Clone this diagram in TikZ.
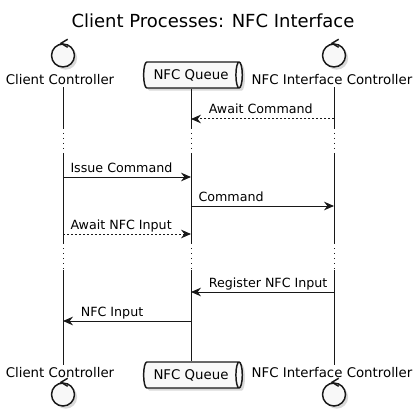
\documentclass[tikz,border=0pt]{standalone}
\usepackage{fontspec}
\setmainfont{DejaVu Sans}
\usetikzlibrary{arrows.meta,shapes.geometric,shadows}
\definecolor{umlline}{HTML}{181818}
\definecolor{umlfill}{HTML}{F8F8F8}
\tikzset{
  ctrl/.style={circle, draw=umlline, line width=1.1pt, fill=umlfill, minimum size=17.25pt, inner sep=0pt, drop shadow={shadow xshift=2pt, shadow yshift=-2pt, opacity=0.3}},
  ctrlmark/.style={draw=umlline, line width=1.1pt, line join=miter},
  queuebox/.style={cylinder, shape aspect=0.55, draw=umlline, line width=1.1pt, fill=umlfill, minimum height=74pt, minimum width=19.5pt, inner sep=0pt, font=\fontsize{10pt}{12pt}\selectfont, drop shadow={shadow xshift=2pt, shadow yshift=-2pt, opacity=0.3}},
  partlbl/.style={font=\fontsize{10pt}{12pt}\selectfont, inner sep=1.5pt},
  msglbl/.style={font=\fontsize{9.5pt}{11pt}\selectfont, inner sep=0pt},
  fromlbl/.style={msglbl, pos=0, anchor=base west, xshift=5.25pt, yshift=3.75pt},
  tolbl/.style={msglbl, pos=1, anchor=base west, xshift=13pt, yshift=3.75pt},
  life/.style={draw=umlline, line width=0.75pt},
  delay/.style={draw=umlline, line width=0.75pt, dash pattern=on 0.75pt off 3pt},
  call/.style={-{Stealth[length=7.5pt,width=6.5pt,inset=2.5pt]}, draw=umlline, line width=0.75pt},
  reply/.style={call, dash pattern=on 1.5pt off 1.5pt}
}
\begin{document}
\begin{tikzpicture}[x=0.75pt, y=-0.75pt]
  \useasboundingbox (0,0) rectangle (419,420);

  \node[font=\fontsize{13.5pt}{16pt}\selectfont, anchor=base] (title) at (213,28) {Client Processes: NFC Interface};

  % participants, top
  \node[ctrl] (client) at (63,55.5) {};
  \node[partlbl, anchor=base] (clientTxt) at (60,85) {Client Controller};
  \node[queuebox] (queue) at (191,75) {NFC Queue};
  \node[ctrl] (iface) at (334,55.5) {};
  \node[partlbl, anchor=base] (ifaceTxt) at (332,85) {NFC Interface Controller};

  % participants, bottom
  \node[partlbl, anchor=base] (clientBotTxt) at (60,377) {Client Controller};
  \node[ctrl] (clientBot) at (63,394.5) {};
  \node[queuebox] (queueBot) at (191,375) {NFC Queue};
  \node[partlbl, anchor=base] (ifaceBotTxt) at (332,377) {NFC Interface Controller};
  \node[ctrl] (ifaceBot) at (334,394.5) {};

  \foreach \c in {client,iface,clientBot,ifaceBot}
    \draw[ctrlmark] ([xshift=3.5pt,yshift=3pt]\c.north) -- ([xshift=-1.5pt]\c.north) -- ([xshift=3.5pt,yshift=-3pt]\c.north);

  % delays
  \coordinate (d1s) at (0,128);
  \coordinate (d1e) at (0,154);
  \coordinate (d2s) at (0,243);
  \coordinate (d2e) at (0,270);

  % lifelines
  \foreach \x/\top/\bot in {client/clientTxt/clientBotTxt, queue/queue/queueBot, iface/ifaceTxt/ifaceBotTxt} {
    \draw[life] (\x |- \top.south) -- (\x |- d1s);
    \draw[delay] (\x |- d1s) -- (\x |- d1e);
    \draw[life] (\x |- d1e) -- (\x |- d2s);
    \draw[delay] (\x |- d2s) -- (\x |- d2e);
    \draw[life] (\x |- d2e) -- (\x |- \bot.north);
  }

  % messages
  \coordinate (r1) at (0,119);
  \coordinate (r2) at (0,177);
  \coordinate (r3) at (0,206);
  \coordinate (r4) at (0,234);
  \coordinate (r5) at (0,292);
  \coordinate (r6) at (0,321);

  \draw[reply] (iface |- r1) -- node[tolbl] {Await Command} (queue |- r1);
  \draw[call] (client |- r2) -- node[fromlbl] {Issue Command} (queue |- r2);
  \draw[call] (queue |- r3) -- node[fromlbl] {Command} (iface |- r3);
  \draw[reply] (client |- r4) -- node[fromlbl] {Await NFC Input} (queue |- r4);
  \draw[call] (iface |- r5) -- node[tolbl] {Register NFC Input} (queue |- r5);
  \draw[call] (queue |- r6) -- node[tolbl] {NFC Input} (client |- r6);
\end{tikzpicture}
\end{document}
